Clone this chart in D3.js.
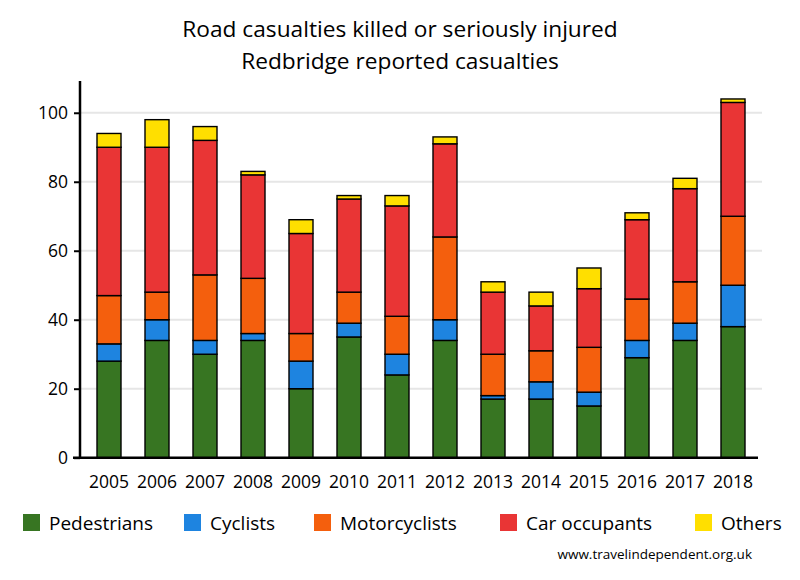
<!DOCTYPE html>
<html>
<head>
<meta charset="utf-8">
<script src="https://cdn.jsdelivr.net/npm/d3@7"></script>
<style>
  html, body { margin: 0; padding: 0; background: #fff; }
  svg { display: block; }
  text { font-family: "Open Sans", "Noto Sans", sans-serif; fill: #000; }
</style>
</head>
<body>
<svg id="chart" width="800" height="580"></svg>
<script>
const years = ["2005","2006","2007","2008","2009","2010","2011","2012","2013","2014","2015","2016","2017","2018"];
const seriesNames = ["Pedestrians","Cyclists","Motorcyclists","Car occupants","Others"];
const pedestrians  = [28, 34, 30, 34, 20, 35, 24, 34, 17, 17, 15, 29, 34, 38];
const cyclists     = [ 5,  6,  4,  2,  8,  4,  6,  6,  1,  5,  4,  5,  5, 12];
const motorcyclists= [14,  8, 19, 16,  8,  9, 11, 24, 12,  9, 13, 12, 12, 20];
const carOccupants = [43, 42, 39, 30, 29, 27, 32, 27, 18, 13, 17, 23, 27, 33];
const others       = [ 4,  8,  4,  1,  4,  1,  3,  2,  3,  4,  6,  2,  3,  1];
const yTicks = [0, 20, 40, 60, 80, 100];
const colors = ["#377522", "#1e84e0", "#f45f0d", "#e93535", "#ffdf00"];
const titleLines = ["Road casualties killed or seriously injured", "Redbridge reported casualties"];
const sourceText = "www.travelindependent.org.uk";

const keys = ["ped","cyc","moto","car","oth"];
const table = years.map((y, i) => ({
  year: y, ped: pedestrians[i], cyc: cyclists[i], moto: motorcyclists[i], car: carOccupants[i], oth: others[i]
}));

const svg = d3.select("#chart");

const x = d3.scaleBand().domain(years).range([85, 757]).paddingInner(0.5).paddingOuter(0.25);
const y = d3.scaleLinear().domain([0, 109.5]).range([457.7, 80]);

// gridlines
svg.append("g").selectAll("line").data(yTicks.filter(d => d > 0)).join("line")
  .attr("x1", 80).attr("x2", 762)
  .attr("y1", d => y(d)).attr("y2", d => y(d))
  .attr("stroke", "#e6e6e6").attr("stroke-width", 2);

// bars
const stack = d3.stack().keys(keys)(table);
svg.append("g").selectAll("g").data(stack).join("g")
  .attr("fill", (d, i) => colors[i])
  .selectAll("rect").data(d => d).join("rect")
  .attr("x", d => x(d.data.year))
  .attr("width", x.bandwidth())
  .attr("y", d => y(d[1]))
  .attr("height", d => y(d[0]) - y(d[1]))
  .attr("stroke", "#000").attr("stroke-width", 1.4);

// y axis
const yAxis = svg.append("g").attr("transform", "translate(80,0)")
  .call(d3.axisLeft(y).tickValues(yTicks).tickSize(6).tickPadding(6));
yAxis.select(".domain").attr("d", `M0,${y(0)}V81`).attr("stroke", "#000").attr("stroke-width", 2.5);
yAxis.selectAll(".tick line").attr("stroke", "#000").attr("stroke-width", 2);
yAxis.selectAll(".tick text").attr("font-size", 17.5).attr("font-family", "'Open Sans', sans-serif").attr("fill", "#000");

// x axis
const xAxis = svg.append("g").attr("transform", `translate(0,${y(0)})`)
  .call(d3.axisBottom(x).tickSize(0).tickPadding(18));
xAxis.select(".domain").attr("d", "M73,0H758").attr("stroke", "#000").attr("stroke-width", 2.5);
xAxis.selectAll(".tick text").attr("font-size", 17.5).attr("font-family", "'Open Sans', sans-serif").attr("fill", "#000");

// title
svg.append("g").selectAll("text").data(titleLines).join("text")
  .attr("x", 400).attr("y", (d, i) => 37 + i * 31.5)
  .attr("text-anchor", "middle").attr("font-size", 22.7)
  .text(d => d);

// legend
const legendX = [23, 184, 314, 500, 695];
const leg = svg.append("g").selectAll("g").data(seriesNames).join("g")
  .attr("transform", (d, i) => `translate(${legendX[i]},514)`);
leg.append("rect").attr("width", 17).attr("height", 17).attr("fill", (d, i) => colors[i]);
leg.append("text").attr("x", 26).attr("y", 16).attr("font-size", 19).text(d => d);

// source
svg.append("text").attr("x", 752).attr("y", 559).attr("text-anchor", "end")
  .attr("font-size", 13.5).text(sourceText);
</script>
</body>
</html>
